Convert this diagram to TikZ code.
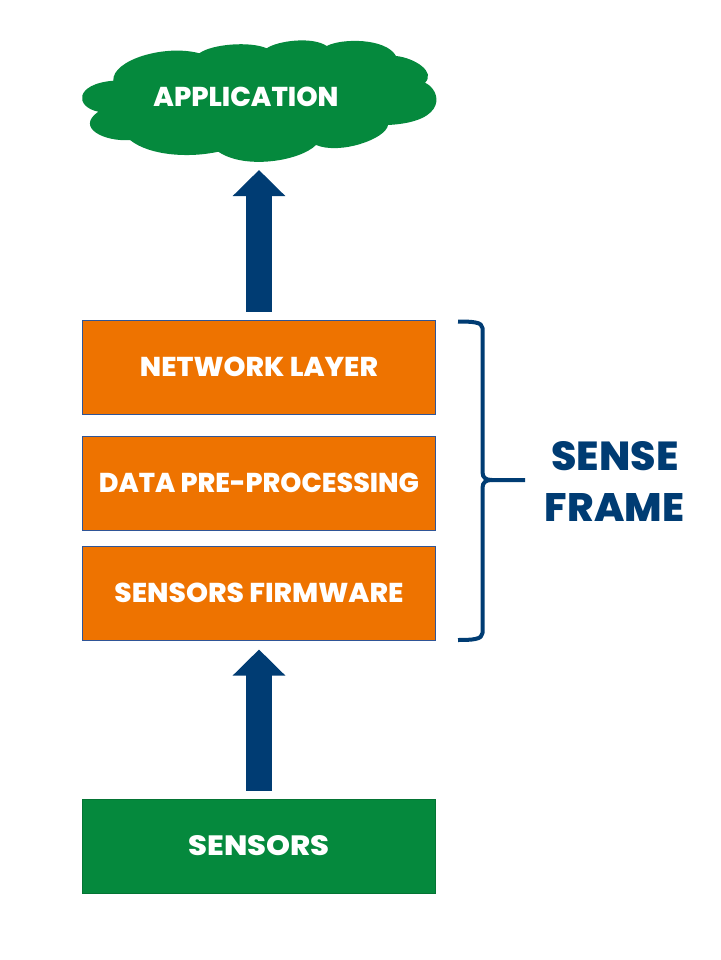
\documentclass[tikz,border=0pt]{standalone}
\usepackage{fontspec}
\usepackage{graphicx}
\setmainfont{Poppins}[BoldFont={Poppins ExtraBold}]
\usetikzlibrary{arrows.meta}
\definecolor{leaf}{HTML}{05893D}
\definecolor{amber}{HTML}{EE7300}
\definecolor{navy}{HTML}{003C73}
\definecolor{edgeblue}{HTML}{2F5597}
\newcommand{\fitted}[3]{\resizebox{#1pt}{#2pt}{\bfseries #3}}
\tikzset{
  block/.style={rectangle,minimum width=353pt,minimum height=94pt,inner sep=0pt,line width=1pt,text=white},
  layerbox/.style={block,draw=edgeblue,fill=amber},
  sourcebox/.style={block,draw=leaf!85!black,fill=leaf},
  upflow/.style={navy,line width=26pt,-{Triangle[length=26pt,width=51pt]}},
  bracket/.style={draw=navy,line width=4pt,line join=round},
  label/.style={inner sep=0pt,text=navy}
}
\begin{document}
\begin{tikzpicture}[x=1pt,y=-1pt]
\useasboundingbox (0,0) rectangle (720,960);
\fill[leaf] (113.3,80.7)
  .. controls (112,60) and (165,44) .. (199.3,53.3)
  .. controls (212,44) and (250,41) .. (266.7,48.3)
  .. controls (277,41) and (312,36) .. (326.7,46)
  .. controls (342,38) and (386,38) .. (396,56)
  .. controls (415,58) and (436,72) .. (425,82.7)
  .. controls (441,90) and (449,122) .. (388,125)
  .. controls (386,139) and (340,155) .. (316,145)
  .. controls (300,161) and (245,170) .. (218.3,151.7)
  .. controls (190,158) and (150,156) .. (130,140)
  .. controls (105,142) and (75,128) .. (98.3,111.7)
  .. controls (75,107) and (74,84) .. (113.3,80.7) -- cycle;
\node[inner sep=0pt,text=white] (application) at (246,96.5) {\fitted{185}{19.5}{APPLICATION}};
\coordinate (cloudbase) at (259,162);
\node[layerbox] (network) at (259,367) {\fitted{238}{19.5}{NETWORK LAYER}};
\node[layerbox] (data) at (259,483) {\fitted{320}{19.5}{DATA PRE-PROCESSING}};
\node[layerbox] (firmware) at (259,593) {\raisebox{1pt}{\fitted{289}{19.5}{SENSORS FIRMWARE}}};
\node[sourcebox] (sensors) at (259,846) {\fitted{141}{20}{SENSORS}};
\draw[upflow,shorten <=8pt,shorten >=8pt] (network.north) -- (cloudbase);
\draw[upflow,shorten <=8pt,shorten >=9pt] (sensors.north) -- (firmware.south);
\node[label] (sense) at (615,456.5) {\fitted{127}{29}{SENSE}};
\node[label] (frame) at (614.5,507) {\fitted{139}{28}{FRAME}};
\coordinate (bracetip) at (525,480);
\draw[bracket] (458,321.5) .. controls (472,321.5) and (482.5,322) .. (482.5,328)
  -- (482.5,472) .. controls (482.5,478) and (486,480) .. (492,480) -- (bracetip);
\draw[bracket] (458,640) .. controls (472,640) and (482.5,639.5) .. (482.5,633)
  -- (482.5,488) .. controls (482.5,482) and (486,480) .. (492,480);
\end{tikzpicture}
\end{document}
